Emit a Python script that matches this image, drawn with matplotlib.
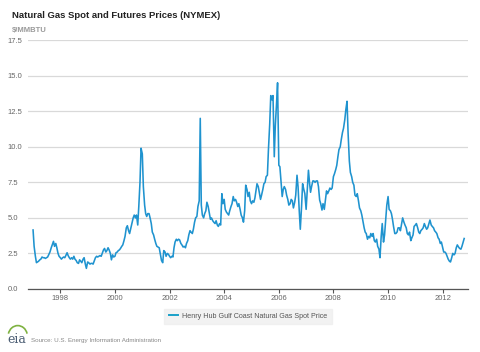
import matplotlib
matplotlib.use("Agg")
import matplotlib.pyplot as plt
import matplotlib.dates as mdates
from matplotlib.patches import Arc
import pandas as pd

# semi-monthly Henry Hub spot price, $/MMBTU
y1997 = [4.15, 3.0, 2.3, 1.85, 1.9, 1.95, 2.05, 2.1, 2.25, 2.2, 2.2, 2.15,
         2.2, 2.25, 2.45, 2.6, 2.9, 3.1, 3.35, 3.0, 3.2, 2.9, 2.5, 2.3]
y1998 = [2.2, 2.1, 2.2, 2.25, 2.2, 2.35, 2.55, 2.35, 2.2, 2.1, 2.2, 2.1,
         2.3, 2.1, 2.0, 1.85, 1.8, 2.05, 1.95, 1.85, 2.1, 2.2, 1.75, 1.45]
y1999 = [1.9, 1.85, 1.75, 1.8, 1.8, 1.75, 2.0, 2.2, 2.3, 2.25, 2.3, 2.35,
         2.3, 2.5, 2.75, 2.85, 2.6, 2.7, 2.9, 2.75, 2.5, 2.05, 2.4, 2.25]
y2000 = [2.3, 2.55, 2.6, 2.7, 2.75, 2.85, 3.0, 3.1, 3.4, 3.7, 4.3, 4.45,
         4.1, 3.9, 4.3, 4.6, 5.0, 5.2, 5.0, 5.2, 4.5, 5.8, 7.5, 9.9]
y2001 = [9.5, 7.2, 5.9, 5.3, 5.1, 5.3, 5.3, 5.0, 4.6, 4.0, 3.8, 3.5,
         3.2, 3.0, 2.95, 2.9, 2.4, 2.0, 1.85, 2.7, 2.6, 2.3, 2.5, 2.45]
y2002 = [2.3, 2.2, 2.3, 2.25, 2.9, 3.3, 3.5, 3.4, 3.5, 3.45, 3.2, 3.1,
         2.95, 3.0, 2.9, 3.2, 3.4, 3.8, 4.1, 4.0, 3.9, 4.2, 4.7, 5.0]
y2003 = [5.1, 5.8, 6.2, 12.0, 5.9, 5.2, 5.0, 5.3, 5.5, 6.1, 5.8, 5.4,
         4.9, 5.0, 4.8, 4.7, 4.6, 4.8, 4.5, 4.4, 4.6, 4.5, 6.7, 6.0]
y2004 = [6.3, 5.6, 5.4, 5.3, 5.2, 5.5, 5.8, 6.0, 6.5, 6.2, 6.3, 6.1,
         5.8, 6.0, 5.6, 5.2, 5.0, 4.7, 5.5, 7.3, 7.0, 6.5, 6.8, 6.2]
y2005 = [6.0, 6.2, 6.1, 6.4, 6.9, 7.4, 7.2, 6.8, 6.3, 6.6, 7.0, 7.4,
         7.5, 7.9, 8.0, 9.8, 11.6, 13.6, 13.3, 13.6, 9.3, 11.5, 13.0, 14.5]
y2006 = [8.7, 8.6, 7.5, 6.5, 7.0, 7.2, 7.0, 6.6, 6.3, 5.9, 6.0, 6.3,
         6.2, 5.7, 6.1, 6.6, 8.0, 7.2, 5.5, 4.2, 5.8, 7.4, 7.0, 6.7]
y2007 = [5.6, 6.8, 8.35, 7.5, 6.8, 7.2, 7.6, 7.6, 7.5, 7.6, 7.6, 7.2,
         6.25, 6.0, 5.55, 6.0, 5.6, 6.2, 6.9, 6.7, 6.9, 7.1, 7.0, 7.1]
y2008 = [7.9, 8.1, 8.4, 8.7, 9.3, 9.8, 10.0, 10.5, 11.0, 11.3, 11.9, 12.6,
         13.2, 11.0, 9.0, 8.2, 7.9, 7.5, 7.3, 6.6, 6.5, 6.7, 6.2, 5.7]
y2009 = [5.5, 5.2, 4.7, 4.3, 4.0, 3.9, 3.5, 3.7, 3.6, 3.9, 3.7, 3.9,
         3.4, 3.3, 3.5, 3.0, 2.8, 2.2, 3.7, 4.6, 3.3, 3.8, 4.9, 5.9]
y2010 = [6.5, 5.6, 5.5, 5.3, 4.9, 4.4, 3.9, 3.9, 4.0, 4.3, 4.3, 4.1,
         4.6, 5.0, 4.7, 4.5, 4.3, 3.9, 3.8, 4.0, 3.4, 3.6, 3.8, 4.4]
y2011 = [4.5, 4.6, 4.3, 4.0, 3.9, 4.1, 4.2, 4.3, 4.6, 4.4, 4.2, 4.3,
         4.6, 4.85, 4.5, 4.4, 4.3, 4.1, 4.0, 3.9, 3.6, 3.5, 3.2, 3.3]
y2012 = [2.9, 2.6, 2.6, 2.5, 2.3, 2.1, 1.95, 1.9, 2.2, 2.5, 2.4, 2.5,
         2.9, 3.1, 2.95, 2.85, 2.8, 3.0, 3.3, 3.55]

prices = (y1997 + y1998 + y1999 + y2000 + y2001 + y2002 + y2003 + y2004 +
          y2005 + y2006 + y2007 + y2008 + y2009 + y2010 + y2011 + y2012)
dates = pd.date_range("1997-01-01", periods=len(prices), freq="SMS")

yticks = [0, 2.5, 5, 7.5, 10, 12.5, 15, 17.5]
xyears = [1998, 2000, 2002, 2004, 2006, 2008, 2010, 2012]

title = "Natural Gas Spot and Futures Prices (NYMEX)"
units = "$/MMBTU"
series_name = "Henry Hub Gulf Coast Natural Gas Spot Price"
source = "Source: U.S. Energy Information Administration"

plt.rcParams['font.family'] = ['Liberation Sans', 'DejaVu Sans']

fig = plt.figure(figsize=(4.8, 3.52), dpi=100)
ax = fig.add_axes([0.0583, 0.179, 0.9167, 0.707])

line_col = '#1f93cf'
ax.plot(dates, prices, color=line_col, lw=1.15, solid_joinstyle='round')

ax.set_ylim(0, 17.5)
ax.set_xlim(pd.Timestamp("1996-10-25"), pd.Timestamp("2012-12-05"))
ax.set_yticks(yticks)
ax.set_yticklabels([f"{v:.1f}" for v in yticks])
ax.set_xticks([pd.Timestamp(f"{y}-01-01") for y in xyears])
ax.xaxis.set_major_formatter(mdates.DateFormatter("%Y"))

ax.grid(axis='y', color='#d9d9d9', lw=0.9)
ax.set_axisbelow(True)
for s in ['top', 'right', 'left']:
    ax.spines[s].set_visible(False)
ax.spines['bottom'].set_color('#555555')
ax.spines['bottom'].set_linewidth(0.9)
ax.tick_params(axis='y', length=0, labelsize=5.5, labelcolor='#666666', pad=3)
ax.tick_params(axis='x', length=3, color='#555555', labelsize=5.5,
               labelcolor='#666666', pad=1.5)
for lbl in ax.get_yticklabels():
    lbl.set_horizontalalignment('left')
    lbl.set_x(-0.037)

fig.text(0.025, 0.957, title, fontsize=6.8, fontweight='bold', color='#222222',
         va='center', ha='left')
fig.text(0.025, 0.912, units, fontsize=5.5, fontweight='bold', color='#999999',
         va='center', ha='left')

leg = ax.legend([series_name], loc='upper center', bbox_to_anchor=(0.5, -0.065),
                frameon=True, fontsize=5.1, handlelength=1.3, handletextpad=0.6,
                borderpad=0.6)
leg.get_frame().set_facecolor('#efefef')
leg.get_frame().set_edgecolor('#efefef')
leg.get_frame().set_boxstyle('square', pad=0)
for t in leg.get_texts():
    t.set_color('#555555')
leg.get_lines()[0].set_color('#1aa0c8')
leg.get_lines()[0].set_linewidth(1.4)

# eia logo-ish mark and source line
fig.text(0.016, 0.026, "eia", fontsize=9, color='#4b5d73', family='DejaVu Serif',
         va='baseline', ha='left')
fig.add_artist(Arc((0.037, 0.045), 0.04, 0.06, theta1=20, theta2=160,
                   transform=fig.transFigure, color='#7fb241', lw=1.2))
fig.text(0.065, 0.034, source, fontsize=4.5, color='#888888', va='center',
         ha='left')

fig.savefig("out.png", dpi=100)
